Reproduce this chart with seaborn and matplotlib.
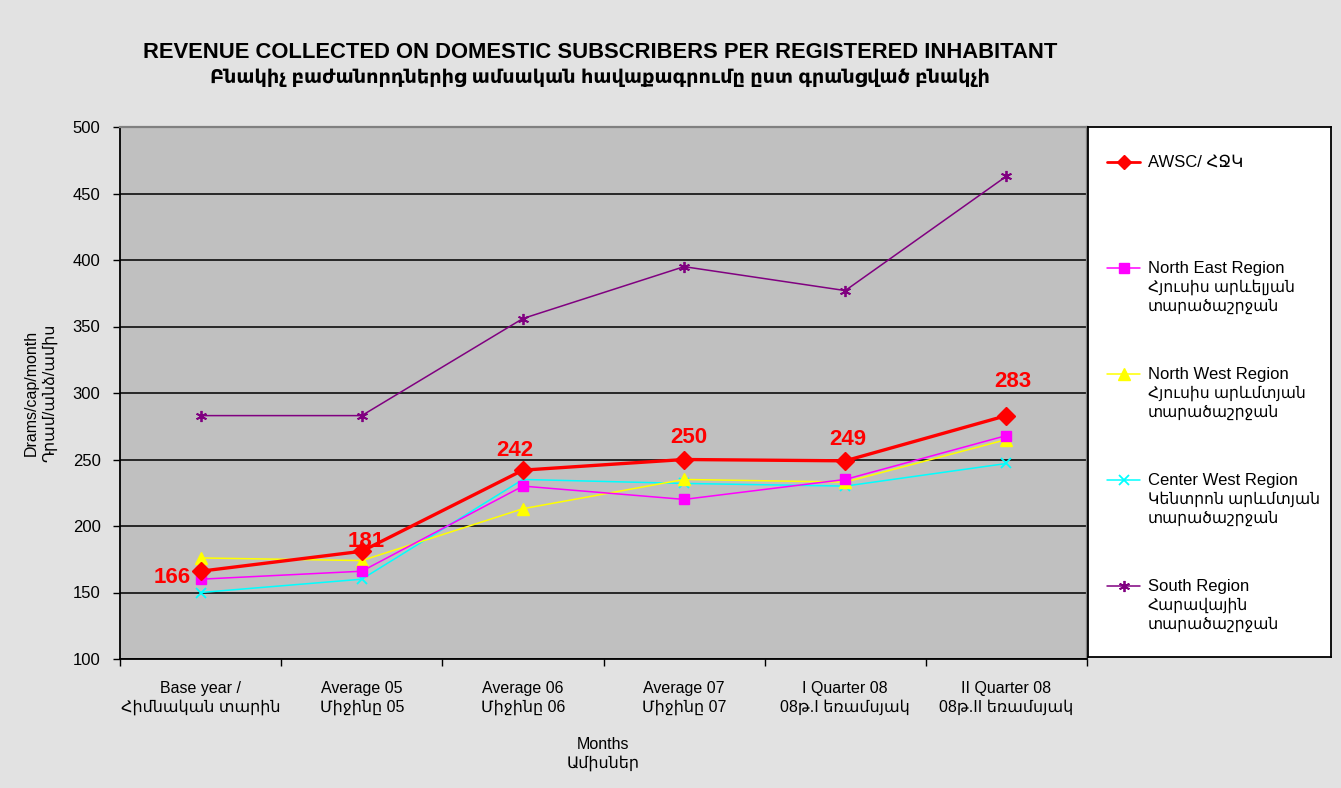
import numpy as np
import pandas as pd
import matplotlib
matplotlib.use("Agg")
import matplotlib.pyplot as plt
import seaborn as sns

# ---------------- data ----------------
categories = [
    "Base year /\nՀիմնական տարին",
    "Average 05\nՄիջինը 05",
    "Average 06\nՄիջինը 06",
    "Average 07\nՄիջինը 07",
    "I Quarter 08\n08թ.I եռամսյակ",
    "II Quarter 08\n08թ.II եռամսյակ",
]
awsc = [166, 181, 242, 250, 249, 283]
north_east = [160, 166, 230, 220, 235, 268]
north_west = [176, 174, 213, 235, 233, 265]
center_west = [150, 160, 235, 232, 230, 247]
south = [283, 283, 356, 395, 377, 463]

series_names = [
    "AWSC/ ՀՋԿ",
    "North East Region\nՀյուսիս արևելյան\nտարածաշրջան",
    "North West Region\nՀյուսիս արևմտյան\nտարածաշրջան",
    "Center West Region\nԿենտրոն արևմտյան\nտարածաշրջան",
    "South Region\nՀարավային\nտարածաշրջան",
]
series_values = [awsc, north_east, north_west, center_west, south]
y_ticks = [100, 150, 200, 250, 300, 350, 400, 450, 500]

title_en = "REVENUE COLLECTED ON DOMESTIC SUBSCRIBERS PER REGISTERED INHABITANT"
title_hy = "Բնակիչ բաժանորդներից ամսական հավաքագրումը ըստ գրանցված բնակչի"
y_label = "Drams/cap/month\nԴրամ/անձ/ամիս"
x_label = "Months\nԱմիսներ"

# ---------------- style ----------------
sns.set_theme(style="white")
plt.rcParams["font.family"] = ["Liberation Sans", "DejaVu Sans"]
plt.rcParams["text.color"] = "black"
plt.rcParams["axes.labelcolor"] = "black"
plt.rcParams["xtick.color"] = "black"
plt.rcParams["ytick.color"] = "black"

colors = ["#FF0000", "#FF00FF", "#FFFF00", "#00FFFF", "#800080"]
markers = ["D", "s", "^", "x", (6, 2, 0)]
msizes = [9, 7.5, 8, 7, 8]
lws = [2.4, 1.1, 1.1, 1.1, 1.1]
label_offsets = [(-10, -6, "right"), (4, 10, "center"), (-8, 20, "center"),
                 (5, 22, "center"), (3, 21, "center"), (6, 34, "center")]

W, H = 1341, 788
fig = plt.figure(figsize=(W / 100, H / 100), dpi=100)
fig.patch.set_facecolor("#E2E2E2")

ax = fig.add_axes([120 / W, 1 - 659 / H, (1087 - 120) / W, (659 - 127) / H])
ax.set_facecolor("#C0C0C0")

x = np.arange(len(categories))
draw_order = [4, 3, 2, 1, 0]
for i in draw_order:
    df = pd.DataFrame({"x": x, "y": series_values[i]})
    sns.lineplot(data=df, x="x", y="y", ax=ax, color=colors[i], lw=lws[i],
                 marker=markers[i], markersize=msizes[i],
                 markeredgecolor=colors[i], markerfacecolor=colors[i],
                 markeredgewidth=1.3 if i >= 3 else 1.0,
                 legend=False, zorder=3 + (5 - i), errorbar=None)

for xi, v, (dx, dy, ha) in zip(x, awsc, label_offsets):
    ax.annotate(str(v), (xi, v), xytext=(dx, dy), textcoords="offset pixels",
                ha=ha, va="center", color="#FF0000", fontsize=16,
                fontweight="bold", zorder=10)

ax.set_xlim(-0.5, len(categories) - 0.5)
ax.set_ylim(100, 500)
ax.set_yticks(y_ticks)
ax.set_yticklabels([str(t) for t in y_ticks], fontsize=12)
ax.set_xticks(x)
ax.set_xticklabels(categories, fontsize=11.5, linespacing=1.25)
ax.set_xticks(np.arange(-0.5, len(categories)), minor=True)
ax.tick_params(axis="x", which="major", length=0, pad=16)
ax.tick_params(axis="x", which="minor", length=5, width=1, color="black",
               direction="out", bottom=True)
ax.tick_params(axis="y", length=5, width=1, color="black", direction="out",
               left=True, pad=9)

ax.yaxis.grid(True, color="#1a1a1a", lw=1.3)
ax.xaxis.grid(False)
ax.set_axisbelow(True)
for side in ["left", "bottom"]:
    ax.spines[side].set_color("black")
    ax.spines[side].set_linewidth(1.3)
for side in ["top", "right"]:
    ax.spines[side].set_color("#808080")
    ax.spines[side].set_linewidth(1.6)

ax.set_xlabel(x_label, fontsize=11.5, labelpad=16, linespacing=1.25)
ax.set_ylabel(y_label, fontsize=11.5, labelpad=11, linespacing=1.25)

fig.text(600 / W, 1 - 53 / H, title_en, ha="center", va="center",
         fontsize=15.8, fontweight="bold")
fig.text(600 / W, 1 - 78 / H, title_hy, ha="center", va="center",
         fontsize=13.9, fontweight="bold")

# ---------------- legend ----------------
lx0, ly0, lx1, ly1 = 1088, 127, 1331, 657
lax = fig.add_axes([lx0 / W, 1 - ly1 / H, (lx1 - lx0) / W, (ly1 - ly0) / H])
lax.set_xlim(0, lx1 - lx0)
lax.set_ylim(ly1 - ly0, 0)
lax.set_facecolor("white")
lax.set_xticks([])
lax.set_yticks([])
for s in lax.spines.values():
    s.set_color("black")
    s.set_linewidth(1.3)
entry_y = [35, 141, 247, 353, 459]
for i, (name, ey) in enumerate(zip(series_names, entry_y)):
    lax.plot([19, 52], [ey, ey], color=colors[i], lw=lws[i] if i else 2.0)
    lax.plot([35.5], [ey], color=colors[i], marker=markers[i],
             markersize=msizes[i] - (1.5 if i == 0 else 0),
             markeredgecolor=colors[i],
             markeredgewidth=1.3 if i >= 3 else 1.0, ls="none")
    for j, line in enumerate(name.split("\n")):
        lax.text(60, ey + 19 * j, line, ha="left", va="center",
                 fontsize=12 if j == 0 else 11.2)

fig.savefig("out.png", dpi=100, facecolor=fig.get_facecolor())
